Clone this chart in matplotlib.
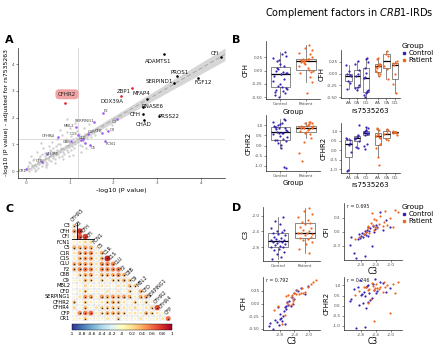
#!/usr/bin/env python3
"""Complement factors in CRB1-IRDs: eQTL scatter, box plots, correlation matrix."""

import matplotlib.pyplot as plt
import numpy as np
from matplotlib.lines import Line2D
from matplotlib.patches import Rectangle

plt.rcParams["font.family"] = "DejaVu Sans"

W, H = 440, 345
CTRL_COLOR = "#3524b0"
PAT_COLOR = "#f0661e"
GROUPS = ["Control", "Patient"]
GENO_ORDER = ["AA", "GA", "GG"]

# ---- panel A: -log10 P, unadjusted vs adjusted for rs7535263 ----
TOP_GENES = ["ADAMTS1", "CFI", "PROS1", "SERPIND1", "FGF12", "MFAP4", "RNASE6", "CFH", "CHAD", "PRSS22"]
TOP_X = [3.16, 4.46, 3.45, 3.39, 3.94, 2.77, 2.68, 2.67, 2.70, 3.04]
TOP_Y = [4.37, 4.25, 3.55, 3.28, 3.47, 2.69, 2.39, 2.13, 1.90, 2.05]
GAIN_GENES = ["CFHR2", "ZBP1", "DDX39A"]
GAIN_X = [0.89, 2.43, 2.17]
GAIN_Y = [2.54, 3.10, 2.80]
COMP_GENES = ["F2", "SERPING1", "MBL2", "C3", "C9", "CFP", "C1S", "C1R", "CLU", "C8B",
              "C5", "FCN1", "CFHR4", "CFHR5", "CFB", "CR1", "", ""]
COMP_X = [1.76, 1.55, 1.14, 2.08, 1.87, 1.75, 1.19, 1.42, 1.30, 1.03, 1.46, 1.81, 0.73, 0.48, 0.37, 0.00, 1.25, 1.36]
COMP_Y = [2.16, 1.85, 1.64, 1.94, 1.49, 1.42, 1.34, 1.38, 1.20, 1.12, 0.97, 1.12, 1.27, 0.63, 0.34, 0.07, 1.15, 1.05]
BG_X = [0.03, 0.07, 0.05, 0.11, 0.14, 0.09, 0.18, 0.21, 0.16, 0.24, 0.27, 0.22, 0.31, 0.29, 0.34, 0.37,
        0.33, 0.41, 0.39, 0.44, 0.47, 0.43, 0.51, 0.49, 0.55, 0.53, 0.58, 0.61, 0.57, 0.64, 0.62, 0.68,
        0.66, 0.71, 0.74, 0.69, 0.78, 0.76, 0.81, 0.84, 0.79, 0.88, 0.86, 0.91, 0.94, 0.89, 0.98, 1.01,
        0.96, 1.05, 1.08, 1.03, 1.12, 1.15, 1.10, 1.19, 1.23, 1.27, 1.31, 1.35, 1.29, 1.40, 1.44, 1.48,
        1.53, 1.58, 1.63, 1.69, 1.74, 1.82, 1.90, 1.97, 2.06, 2.18, 2.33, 0.12, 0.26, 0.38, 0.52, 0.60,
        0.72, 0.83, 0.93, 1.00, 1.17, 1.25, 0.20, 0.45, 0.67, 0.85, 1.07, 1.37, 0.35, 0.58, 0.77, 1.13,
        1.45, 0.95, 0.08, 0.19, 0.28, 0.36, 0.46, 0.54, 0.63, 0.73, 0.82, 0.92, 1.02, 1.21, 1.33, 0.98]
BG_Y = [0.10, 0.02, 0.18, 0.08, 0.22, 0.30, 0.12, 0.28, 0.40, 0.18, 0.35, 0.05, 0.25, 0.48, 0.38, 0.20,
        0.55, 0.42, 0.30, 0.58, 0.35, 0.68, 0.50, 0.28, 0.62, 0.42, 0.75, 0.55, 0.38, 0.70, 0.88, 0.60,
        0.45, 0.78, 0.62, 0.95, 0.72, 0.52, 0.88, 0.70, 1.02, 0.82, 0.62, 0.95, 0.78, 1.12, 0.90, 1.05,
        0.70, 0.95, 1.18, 0.80, 1.02, 1.25, 0.88, 1.10, 0.98, 1.30, 1.12, 1.38, 0.95, 1.22, 1.45, 1.28,
        1.55, 1.35, 1.60, 1.48, 1.70, 1.58, 1.82, 1.72, 1.95, 2.05, 2.20, 0.55, 0.70, 0.85, 0.95, 1.10,
        1.20, 1.35, 1.45, 1.62, 1.50, 0.72, 0.00, 0.15, 0.30, 0.45, 0.60, 0.85, 1.05, 1.30, 1.55, 1.80,
        1.75, 1.95, 0.32, 0.45, 0.12, 0.62, 0.22, 0.80, 0.50, 1.00, 0.55, 1.20, 1.30, 1.40, 1.62, 0.55]
SIG_LINE = 1.2
FIT_SLOPE, FIT_INTERCEPT = 0.955, 0.02

# label offsets (data units) for panel A
TOP_OFFSETS = {"ADAMTS1": (-0.14, -0.27), "CFI": (-0.13, 0.13), "PROS1": (0.07, 0.14),
               "SERPIND1": (-0.33, 0.08), "FGF12": (0.11, -0.15), "MFAP4": (-0.12, 0.22),
               "RNASE6": (0.22, 0.04), "CFH": (-0.17, -0.02), "CHAD": (0.0, -0.17),
               "PRSS22": (0.24, 0.0)}
GAIN_OFFSETS = {"CFHR2": (0.05, 0.33), "ZBP1": (-0.2, -0.14), "DDX39A": (-0.2, -0.19)}
COMP_OFFSETS = {"F2": (0.08, 0.08), "SERPING1": (-0.22, 0.02), "MBL2": (-0.15, 0.04),
                "C3": (-0.05, -0.1), "C9": (0.1, 0.05), "CFP": (-0.1, 0.06), "C1S": (-0.1, 0.05),
                "C1R": (0.08, 0.08), "CLU": (0.0, 0.03), "C8B": (-0.1, -0.02), "C5": (0.09, -0.1),
                "FCN1": (0.14, -0.1), "CFHR4": (-0.22, 0.04), "CFHR5": (0.12, 0.0),
                "CFB": (-0.06, 0.03), "CR1": (-0.08, -0.05)}

# ---- subjects (panels B and D) ----
CTRL_C3 = [-3.10, -3.05, -2.98, -2.92, -2.88, -2.84, -2.81, -2.80, -2.78, -2.75, -2.72, -2.70, -2.68,
           -2.66, -2.65, -2.63, -2.62, -2.60, -2.57, -2.55, -2.50, -2.47, -2.44, -2.42, -2.40, -2.36,
           -2.30, -2.22, -2.12, -2.03]
CTRL_CFH = [-0.45, -0.38, -0.50, -0.32, -0.36, -0.07, -0.42, -0.20, -0.30, -0.28, -0.35, -0.25, -0.15,
            -0.40, -0.06, -0.10, -0.05, 0.02, -0.02, 0.05, -0.04, 0.12, 0.00, 0.08, 0.20, 0.27, 0.24,
            0.30, 0.18, 0.34]
CTRL_CFI = [-0.28, -0.10, -0.45, -0.56, -0.15, -0.05, -0.12, -0.08, -0.02, -0.10, -0.04, -0.52, 0.02,
            -0.06, 0.00, 0.05, -0.08, 0.10, 0.03, 0.08, -0.31, 0.12, 0.00, 0.06, 0.15, 0.10, 0.42, 0.05,
            0.25, 0.10]
CTRL_CFHR2 = [0.25, 0.32, 0.84, -1.12, 0.91, 0.05, 1.25, 0.55, 0.60, 0.12, 0.70, 0.48, -1.05, 0.93,
              -0.10, 0.97, 0.20, 1.00, 0.62, 0.28, 0.40, 1.05, 0.80, 1.32, 0.64, 0.75, 1.18, 1.10, 0.66,
              0.88]
CTRL_GENO = ["GG", "GG", "GG", "AA", "GG", "GG", "GG", "AA", "GA", "GA", "GA", "GA", "AA", "GG", "AA",
             "GG", "GA", "GG", "AA", "AA", "AA", "GG", "GA", "GA", "GA", "GA", "GG", "GG", "AA", "GG"]

PAT_C3 = [-2.95, -2.85, -2.72, -2.66, -2.62, -2.60, -2.58, -2.54, -2.50, -2.47, -2.45, -2.44, -2.43,
          -2.40, -2.36, -2.32, -2.28, -2.22, -2.18, -2.15, -2.10, -2.02, -1.95, -1.88, -1.80]
PAT_CFH = [-0.12, -0.05, -0.41, -0.22, 0.14, 0.01, 0.16, -0.02, 0.12, 0.00, 0.17, 0.05, 0.09, 0.21,
           0.18, 0.26, 0.19, 0.20, 0.30, 0.215, 0.22, 0.33, 0.38, 0.42, 0.47]
PAT_CFI = [-0.14, -0.10, -0.05, 0.00, 0.08, 0.12, -0.02, 0.20, 0.40, 0.15, 0.28, 0.05, 0.10, 0.25,
           0.08, 0.18, 0.35, 0.12, 0.22, 0.45, 0.15, 0.30, 0.10, 0.48, 0.42]
PAT_CFHR2 = [0.55, 0.72, 0.95, 0.92, 0.15, 0.80, 0.85, 0.35, 1.12, 0.98, -0.76, 0.78, 0.90, 1.07,
             0.88, 0.84, 0.95, 0.68, 1.17, 0.93, 1.00, -0.35, 1.09, 0.62, 1.15]
PAT_GENO = ["GA", "AA", "GG", "GG", "AA", "AA", "GA", "AA", "AA", "GG", "AA", "AA", "GA", "AA", "AA",
            "GG", "GG", "AA", "AA", "GG", "GG", "AA", "GA", "GA", "GA"]

# fixed strip-chart jitter
CTRL_JIT = [-0.21, 0.12, -0.05, 0.24, -0.15, 0.03, 0.19, -0.26, 0.08, -0.10, 0.27, -0.02, 0.15,
            -0.19, 0.05, -0.24, 0.21, -0.08, 0.10, -0.13, 0.25, 0.00, -0.17, 0.14, -0.04, 0.22,
            -0.27, 0.07, -0.11, 0.18]
PAT_JIT = [0.16, -0.22, 0.04, 0.25, -0.09, 0.11, -0.18, 0.20, -0.02, 0.27, -0.14, 0.07, -0.25,
           0.13, -0.06, 0.22, -0.20, 0.01, 0.18, -0.11, 0.09, -0.27, 0.24, -0.04, 0.14]

# ---- panel C: correlations (lower triangle) ----
CORR_VARS = ["CFHR5", "C3", "CFH", "CFI", "FCN1", "C5", "C1R", "C1S", "CLU", "F2", "C8B", "C9",
             "MBL2", "CFD", "SERPING1", "CFHR2", "CFHR4", "CFP", "CR1"]
CORR_ROWS = [
    [0.30],
    [0.45, 0.80],
    [0.20, 0.70, 0.75],
    [0.10, 0.15, 0.25, 0.25],
    [0.40, 0.40, 0.45, 0.40, 0.15],
    [0.20, 0.45, 0.45, 0.50, 0.20, 0.40],
    [0.15, 0.40, 0.45, 0.45, 0.15, 0.40, 0.85],
    [0.40, 0.45, 0.45, 0.40, 0.20, 0.50, 0.50, 0.50],
    [0.40, 0.50, 0.55, 0.50, 0.20, 0.50, 0.50, 0.50, 0.55],
    [0.10, 0.30, 0.40, 0.45, 0.15, 0.40, 0.40, 0.40, 0.50, 0.40],
    [0.10, 0.15, 0.35, 0.30, 0.10, 0.30, 0.15, 0.30, 0.30, 0.40, 0.30],
    [0.05, 0.10, 0.25, 0.15, 0.10, 0.20, 0.15, 0.10, 0.20, 0.20, 0.35, 0.30],
    [0.05, 0.15, 0.30, 0.10, 0.10, 0.10, 0.20, 0.10, 0.20, 0.10, 0.30, 0.10, 0.40],
    [0.10, 0.20, 0.45, 0.45, 0.10, 0.45, 0.40, 0.45, 0.40, 0.45, 0.40, 0.15, 0.40, 0.45],
    [0.35, 0.10, 0.30, 0.15, 0.10, 0.20, 0.30, 0.40, 0.35, 0.20, 0.10, 0.30, 0.10, 0.30, 0.10],
    [0.25, 0.10, 0.35, 0.10, 0.20, 0.30, 0.30, 0.35, 0.30, 0.20, 0.15, 0.25, 0.10, 0.20, 0.30, 0.70],
    [0.10, 0.50, 0.55, 0.60, 0.15, 0.30, 0.40, 0.40, 0.40, 0.30, 0.15, 0.20, 0.15, 0.40, 0.30, 0.20, 0.10],
    [0.10, 0.15, 0.30, 0.10, 0.10, 0.10, 0.20, 0.10, 0.30, 0.10, 0.10, 0.10, 0.20, 0.10, 0.10, 0.15, 0.20, 0.60],
]
SIG_R = 0.28
CLUSTER = (1, 3)  # C3..CFI block


def rect(left, top, right, bottom):
    return [left / W, 1 - bottom / H, (right - left) / W, (bottom - top) / H]


def classic(ax, size=3.0):
    for side in ("top", "right"):
        ax.spines[side].set_visible(False)
    for side in ("left", "bottom"):
        ax.spines[side].set_linewidth(0.5)
        ax.spines[side].set_color("#222222")
    ax.tick_params(length=1.5, width=0.4, labelsize=size, pad=1, color="#333333", labelcolor="#4d4d4d")


def box_strip(ax, groups, positions, colors, jitters, width=0.75):
    ax.boxplot(groups, positions=positions, widths=width, whis=1.5, patch_artist=True,
               showfliers=False, showcaps=False,
               boxprops=dict(facecolor="white", edgecolor="#5a5a5a", linewidth=0.5),
               whiskerprops=dict(color="#5a5a5a", linewidth=0.5),
               medianprops=dict(color="black", linewidth=0.9))
    for pos, vals, col, jit in zip(positions, groups, colors, jitters):
        ax.scatter(pos + np.array(jit[:len(vals)]) * width / 0.75, vals, s=2.5, color=col,
                   linewidths=0, zorder=3)


def by_geno(values, genos):
    return [[v for v, g in zip(values, genos) if g == k] for k in GENO_ORDER]


def panel_a(fig):
    ax = fig.add_axes(rect(18, 48, 225, 178))
    classic(ax)
    ax.set_xlim(-0.18, 4.55)
    ax.set_ylim(-0.26, 4.6)
    ax.set_xticks(range(5))
    ax.set_yticks(range(5))
    ax.axvline(SIG_LINE, color="#cccccc", linewidth=0.5, zorder=0)
    ax.axhline(SIG_LINE, color="#cccccc", linewidth=0.5, zorder=0)
    xs = np.linspace(0, 4.55, 60)
    fit = FIT_INTERCEPT + FIT_SLOPE * xs
    half = 0.03 + 0.045 * xs
    ax.fill_between(xs, fit - half, fit + half, color="#d6d6d6", linewidth=0, zorder=1)
    ax.plot(xs, fit, color="#a0a0a0", linewidth=0.6, linestyle=(0, (5, 3)), zorder=2)
    ax.scatter(BG_X, BG_Y, s=3, color="#c4c4c4", alpha=0.8, linewidths=0, zorder=2)
    ax.scatter(COMP_X, COMP_Y, s=3.5, color="#a25cf0", linewidths=0, zorder=3)
    ax.scatter(TOP_X, TOP_Y, s=3.5, color="black", linewidths=0, zorder=3)
    ax.scatter(GAIN_X, GAIN_Y, s=3.5, color="#e8191c", linewidths=0, zorder=3)
    for name, x, y in zip(COMP_GENES, COMP_X, COMP_Y):
        if name:
            dx, dy = COMP_OFFSETS[name]
            ax.text(x + dx, y + dy, name, fontsize=2.8, color="#444444", ha="center", va="center")
    for name, x, y in zip(TOP_GENES, TOP_X, TOP_Y):
        dx, dy = TOP_OFFSETS[name]
        ax.text(x + dx, y + dy, name, fontsize=4.0, color="#111111", ha="center", va="center")
    for name, x, y in zip(GAIN_GENES, GAIN_X, GAIN_Y):
        dx, dy = GAIN_OFFSETS[name]
        box = None
        if name == "CFHR2":
            box = dict(boxstyle="round,pad=0.45,rounding_size=0.7", fc="#f2a3a3", ec="none")
        ax.text(x + dx, y + dy, name, fontsize=4.0, color="#222222", ha="center", va="center", bbox=box)
    ax.set_xlabel("-log10 (P value)", fontsize=4.6, labelpad=2)
    ax.set_ylabel("-log10 (P value) - adjusted for rs7535263", fontsize=4.4, labelpad=2)


def panel_b(fig):
    # CFH by group
    ax = fig.add_axes(rect(266, 41, 320, 99))
    classic(ax)
    box_strip(ax, [CTRL_CFH, PAT_CFH], [0, 1], [CTRL_COLOR, PAT_COLOR], [CTRL_JIT, PAT_JIT])
    ax.set_xlim(-0.55, 1.55)
    ax.set_ylim(-0.53, 0.55)
    ax.set_yticks([-0.5, -0.25, 0, 0.25], ["-0.50", "-0.25", "0.00", "0.25"])
    ax.set_xticks([0, 1], GROUPS)
    ax.set_ylabel("CFH", fontsize=5, labelpad=2)
    ax.set_xlabel("Group", fontsize=5, labelpad=1.5)

    # CFH by genotype within group
    geno_pos = [0, 1, 2, 3.4, 4.4, 5.4]
    ax = fig.add_axes(rect(341, 50, 400, 98))
    classic(ax)
    groups = by_geno(CTRL_CFH, CTRL_GENO) + by_geno(PAT_CFH, PAT_GENO)
    cols = [CTRL_COLOR] * 3 + [PAT_COLOR] * 3
    box_strip(ax, groups, geno_pos, cols, [CTRL_JIT] * 3 + [PAT_JIT] * 3, width=0.75)
    ax.set_xlim(-0.9, 6.0)
    ax.set_ylim(-0.52, 0.5)
    ax.set_yticks([-0.5, -0.25, 0, 0.25], ["-0.50", "-0.25", "0.00", "0.25"])
    ax.set_xticks(geno_pos, GENO_ORDER * 2)
    ax.set_ylabel("CFH", fontsize=5, labelpad=2)
    ax.set_xlabel("rs7535263", fontsize=5, labelpad=1.5)

    # CFHR2 by group
    ax = fig.add_axes(rect(266, 115, 320, 171))
    classic(ax)
    box_strip(ax, [CTRL_CFHR2, PAT_CFHR2], [0, 1], [CTRL_COLOR, PAT_COLOR], [CTRL_JIT, PAT_JIT])
    ax.set_xlim(-0.55, 1.55)
    ax.set_ylim(-1.25, 1.5)
    ax.set_yticks([-1, -0.5, 0, 0.5, 1], ["-1.0", "-0.5", "0.0", "0.5", "1.0"])
    ax.set_xticks([0, 1], GROUPS)
    ax.set_ylabel("CFHR2", fontsize=5, labelpad=2)
    ax.set_xlabel("Group", fontsize=5, labelpad=1.0)

    # CFHR2 by genotype within group
    ax = fig.add_axes(rect(341, 123, 400, 173))
    classic(ax)
    groups = by_geno(CTRL_CFHR2, CTRL_GENO) + by_geno(PAT_CFHR2, PAT_GENO)
    box_strip(ax, groups, geno_pos, cols, [CTRL_JIT] * 3 + [PAT_JIT] * 3, width=0.75)
    ax.set_xlim(-0.9, 6.0)
    ax.set_ylim(-1.2, 1.45)
    ax.set_yticks([-1, -0.5, 0, 0.5, 1], ["-1.0", "-0.5", "0.0", "0.5", "1.0"])
    ax.set_xticks(geno_pos, GENO_ORDER * 2)
    ax.set_ylabel("CFHR2", fontsize=5, labelpad=2)
    ax.set_xlabel("rs7535263", fontsize=5, labelpad=1.0)


def scatter_c3(ax, ctrl_y, pat_y, note):
    classic(ax)
    ax.tick_params(axis="x", pad=0.6)
    ax.scatter(CTRL_C3, ctrl_y, s=2.5, color=CTRL_COLOR, linewidths=0, zorder=3)
    ax.scatter(PAT_C3, pat_y, s=2.5, color=PAT_COLOR, linewidths=0, zorder=3)
    ax.set_xlim(-3.25, -1.7)
    ax.set_xticks([-2.8, -2.4, -2.0], ["-2.8", "-2.4", "-2.0"])
    ax.set_xlabel("C3", fontsize=5.5, labelpad=0)
    ax.text(0.05, 0.99, note, transform=ax.transAxes, fontsize=3.4, va="top", color="#222222")


def panel_d(fig):
    ax = fig.add_axes(rect(263, 207, 320, 261))
    classic(ax)
    box_strip(ax, [CTRL_C3, PAT_C3], [0, 1], [CTRL_COLOR, PAT_COLOR], [CTRL_JIT, PAT_JIT])
    ax.set_xlim(-0.55, 1.55)
    ax.set_ylim(-3.16, -1.77)
    ax.set_yticks([-2.8, -2.4, -2.0], ["-2.8", "-2.4", "-2.0"])
    ax.set_xticks([0, 1], GROUPS)
    ax.set_ylabel("C3", fontsize=5, labelpad=2)

    ax = fig.add_axes(rect(344, 203, 402, 260))
    scatter_c3(ax, CTRL_CFI, PAT_CFI, "r = 0.695")
    ax.set_ylim(-0.6, 0.62)
    ax.set_yticks([-0.3, 0, 0.3], ["-0.3", "0.0", "0.3"])
    ax.set_ylabel("CFI", fontsize=5, labelpad=2)

    ax = fig.add_axes(rect(263, 277, 320, 330))
    scatter_c3(ax, CTRL_CFH, PAT_CFH, "r = 0.792")
    ax.set_ylim(-0.52, 0.52)
    ax.set_yticks([-0.5, -0.25, 0, 0.25], ["-0.50", "-0.25", "0.00", "0.25"])
    ax.set_ylabel("CFH", fontsize=5, labelpad=2)

    ax = fig.add_axes(rect(344, 277, 402, 330))
    scatter_c3(ax, CTRL_CFHR2, PAT_CFHR2, "r = 0.246")
    ax.set_ylim(-1.2, 1.42)
    ax.set_yticks([-1, -0.5, 0, 0.5, 1], ["-1.0", "-0.5", "0.0", "0.5", "1.0"])
    ax.set_ylabel("CFHR2", fontsize=5, labelpad=2)


def panel_c(fig):
    n = len(CORR_ROWS)
    ax = fig.add_axes(rect(71.5, 223, 171, 321.3))
    ax.set_xlim(-0.5, n - 0.5)
    ax.set_ylim(n - 0.5, -0.5)
    ax.axis("off")
    xs, ys, rs = [], [], []
    for i, row in enumerate(CORR_ROWS):
        for j, r in enumerate(row):
            ax.add_patch(Rectangle((j - 0.5, i - 0.5), 1, 1, fill=False, edgecolor="#dedede",
                                   linewidth=0.3))
            xs.append(j)
            ys.append(i)
            rs.append(r)
    rs = np.array(rs)
    cell_pt = 99.5 / n * 0.72
    sc = ax.scatter(xs, ys, s=(cell_pt * 1.15 * np.sqrt(np.abs(rs))) ** 2, c=rs, cmap="RdYlBu_r",
                    vmin=-1, vmax=1, linewidths=0, zorder=2)
    sig = np.abs(rs) >= SIG_R
    ax.scatter(np.array(xs)[sig], np.array(ys)[sig], s=3, marker="*", color="#1a1a1a",
               linewidths=0, zorder=3)
    lo, hi = CLUSTER
    ax.plot([lo - 0.5, lo - 0.5], [-0.5, hi - 0.5], color="black", linewidth=0.6, zorder=4)
    ax.plot([-0.5, hi + 0.5], [hi - 0.5, hi - 0.5], color="black", linewidth=0.6, zorder=4)
    for i, name in enumerate(CORR_VARS[1:]):
        ax.text(-0.75, i, name, fontsize=3.7, ha="right", va="center", color="black")
    for j, name in enumerate(CORR_VARS[:-1]):
        ax.text(j - 0.2, j - 0.6, name, fontsize=3.5, ha="left", va="bottom", rotation=45,
                rotation_mode="anchor", color="#111111")
    cax = fig.add_axes(rect(72, 324, 172, 330))
    ticks = np.round(np.arange(-1, 1.01, 0.2), 1)
    cb = fig.colorbar(sc, cax=cax, orientation="horizontal", ticks=ticks)
    cb.ax.set_xticklabels([f"{t:g}" for t in ticks])
    cb.ax.tick_params(labelsize=3.2, length=0, pad=1.5)
    cb.outline.set_linewidth(0.3)


def group_legend(fig, top):
    handles = [Line2D([], [], marker="s", linestyle="", markersize=2, color=c)
               for c in (CTRL_COLOR, PAT_COLOR)]
    leg = fig.legend(handles, GROUPS, title="Group", loc="upper left",
                     bbox_to_anchor=(402 / W, 1 - top / H), frameon=False, fontsize=5,
                     title_fontsize=5.4, handlelength=0.6, handletextpad=0.3, borderpad=0,
                     labelspacing=0.15, borderaxespad=0)
    leg._legend_box.align = "left"


def main():
    fig = plt.figure(figsize=(W / 100, H / 100), dpi=100)
    fig.text(0.985, 1 - 13 / H, r"Complement factors in $\mathit{CRB1}$-IRDs", ha="right",
             va="center", fontsize=7)
    for letter, x, y in (("A", 5, 40), ("B", 232, 40), ("C", 5, 209), ("D", 232, 208)):
        fig.text(x / W, 1 - y / H, letter, fontsize=8, fontweight="bold", va="center")
    panel_a(fig)
    panel_b(fig)
    panel_c(fig)
    panel_d(fig)
    group_legend(fig, 43)
    group_legend(fig, 204)
    fig.savefig("out.png", dpi=100)


if __name__ == "__main__":
    main()
